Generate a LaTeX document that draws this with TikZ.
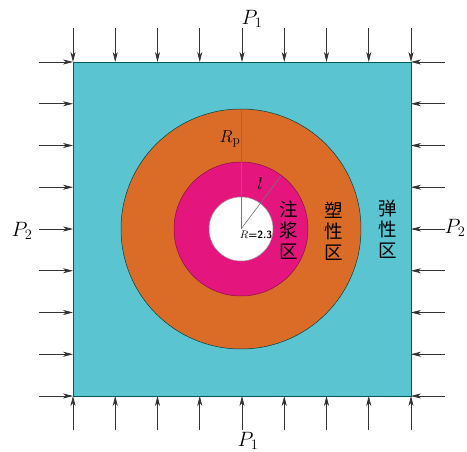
\documentclass[tikz,border=0pt]{standalone}
\usepackage{fontspec}
\newfontfamily\cjk{Noto Sans CJK SC}
\usetikzlibrary{arrows.meta,calc}
\definecolor{elastic}{RGB}{90,196,208}
\definecolor{plastic}{RGB}{218,108,40}
\definecolor{grout}{RGB}{228,22,126}

\begin{document}
\begin{tikzpicture}[
  x=1pt, y=-1pt,
  load/.style={draw=black!80, line width=0.7pt, -{Stealth[length=10pt,width=5pt,inset=3pt]}},
  zone/.style={font=\cjk\fontsize{18.5}{21}\selectfont, align=center, inner sep=0pt},
  plbl/.style={font=\fontsize{21}{24}\selectfont, inner sep=0pt},
  rlbl/.style={font=\fontsize{19}{22}\selectfont, inner sep=0pt},
  radius line/.style={draw=black!55, line width=0.6pt}
]
\useasboundingbox (0,0) rectangle (467,452);

\filldraw[fill=elastic, draw=teal!70!black, line width=0.6pt] (73,62) rectangle (411,396);
\coordinate (O) at (241,229);
\filldraw[fill=plastic, draw=teal!50!black, line width=0.5pt] (O) circle[radius=120];
\filldraw[fill=grout, draw=grout!60!black, line width=0.5pt] (O) circle[radius=67];
\filldraw[fill=white, draw=black!40, line width=0.5pt] (O) circle[radius=32];

\coordinate (rp) at ($(O)+(0,-120)$);
\coordinate (lend) at ($(O)+(-53:66)$);
\draw[radius line] (O) -- (rp);
\draw[radius line] (O) -- (lend);

\foreach \i in {0,...,8} {
  \draw[load] ({73+\i*42.25},28) -- ({73+\i*42.25},62);
  \draw[load] ({73+\i*42.25},430) -- ({73+\i*42.25},396);
  \draw[load] (39,{62+\i*41.75}) -- (73,{62+\i*41.75});
  \draw[load] (445,{62+\i*41.75}) -- (411,{62+\i*41.75});
}

\node[plbl] (ptop) at (252,19) {$P_1$};
\node[plbl] (pbot) at (248,441) {$P_1$};
\node[plbl] (pleft) at (22,231) {$P_2$};
\node[plbl] (pright) at (455,228) {$P_2$};

\node[rlbl] (rplbl) at (230,139) {$R_{\mathrm{p}}$};
\node[rlbl] (llbl) at (260,184) {$l$};
\node[font=\sffamily\bfseries\fontsize{10.5}{12}\selectfont, inner sep=0.5pt] (rlbl) at (256,235) {$R$=2.3};

\node[zone] (grouting) at (289,230) {注\\浆\\区};
\node[zone] (plasticz) at (334,231) {塑\\性\\区};
\node[zone] (elasticz) at (388,229) {弹\\性\\区};
\end{tikzpicture}
\end{document}
